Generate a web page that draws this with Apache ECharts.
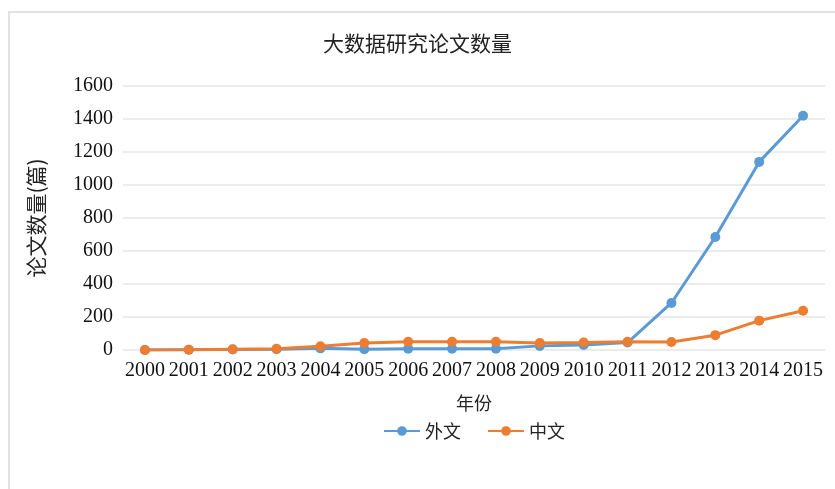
<!DOCTYPE html>
<html>
<head>
<meta charset="utf-8">
<script src="https://cdn.jsdelivr.net/npm/echarts@6/dist/echarts.min.js"></script>
<style>
    body { margin: 0; background: #fff; }
    #frame { position: absolute; left: 8px; top: 11px; width: 835px; height: 489px;
             border-left: 2px solid #e2e2e2; border-top: 2px solid #e2e2e2; }
    #chart { position: absolute; left: 0; top: 0; width: 835px; height: 489px; }
</style>
</head>
<body>
<div id="frame"></div>
<div id="chart"></div>
<script>
    // 年份
    var years = ['2000','2001','2002','2003','2004','2005','2006','2007','2008','2009','2010','2011','2012','2013','2014','2015'];
    // 外文论文数量
    var foreignCount = [0, 2, 3, 5, 10, 5, 8, 8, 8, 25, 30, 45, 285, 685, 1140, 1420];
    // 中文论文数量
    var chineseCount = [0, 2, 5, 8, 22, 42, 50, 50, 50, 42, 45, 50, 48, 90, 178, 238];

    var serif = '"Liberation Serif", "Noto Sans CJK SC", serif';
    var cjk = '"Noto Sans CJK SC", serif';
    var myEcharts = echarts.init(document.getElementById('chart'));
    myEcharts.setOption({
        animation: false,
        title: {
            text: '大数据研究论文数量',
            left: 'center',
            top: 28,
            textStyle: { fontSize: 21, fontWeight: 'normal', color: '#222', fontFamily: cjk }
        },
        legend: {
            data: ['外文', '中文'],
            bottom: 44,
            left: 378,
            itemWidth: 36,
            itemHeight: 12,
            itemGap: 26,
            textStyle: { fontSize: 18, color: '#222', fontFamily: cjk }
        },
        grid: {
            left: 123,
            right: 10,
            top: 86,
            bottom: 139
        },
        xAxis: {
            type: 'category',
            data: years,
            boundaryGap: true,
            name: '年份',
            nameLocation: 'middle',
            nameGap: 44,
            nameTextStyle: { fontSize: 18, color: '#222', fontFamily: cjk },
            axisLine: { show: false },
            axisTick: { show: false },
            axisLabel: { interval: 0, fontSize: 20, color: '#111', fontFamily: serif, margin: 11 }
        },
        yAxis: {
            type: 'value',
            min: 0,
            max: 1600,
            interval: 200,
            name: '论文数量(篇)',
            nameLocation: 'middle',
            nameGap: 76,
            nameTextStyle: { fontSize: 21, color: '#222', fontFamily: cjk },
            axisLine: { show: false },
            axisTick: { show: false },
            axisLabel: {
                fontSize: 20, color: '#111', fontFamily: serif, margin: 10,
                formatter: function (v) { return String(v); }
            },
            splitLine: { lineStyle: { color: '#e6e6e6', width: 1.5 } }
        },
        series: [{
            name: '外文',
            type: 'line',
            data: foreignCount,
            symbol: 'circle',
            symbolSize: 10,
            itemStyle: { color: '#5b9bd5' },
            lineStyle: { width: 3, color: '#5b9bd5' }
        }, {
            name: '中文',
            type: 'line',
            data: chineseCount,
            symbol: 'circle',
            symbolSize: 10,
            itemStyle: { color: '#ed7d31' },
            lineStyle: { width: 3, color: '#ed7d31' }
        }]
    });
</script>
</body>
</html>
